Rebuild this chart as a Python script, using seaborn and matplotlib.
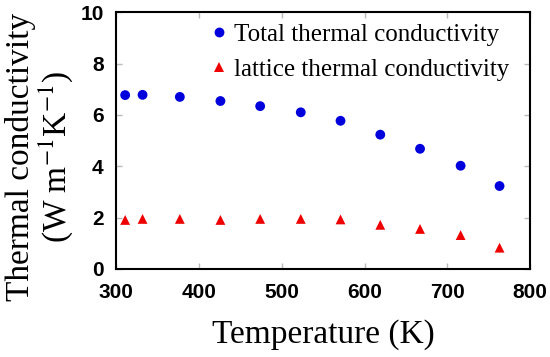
import matplotlib
matplotlib.use("Agg")
import matplotlib.pyplot as plt
import seaborn as sns
import pandas as pd

temperature = [311, 332, 377, 426, 474, 523, 571, 619, 667, 716, 763]
total_k = [6.77, 6.78, 6.70, 6.54, 6.34, 6.10, 5.77, 5.23, 4.68, 4.02, 3.23]
lattice_k = [1.91, 1.95, 1.95, 1.91, 1.95, 1.95, 1.93, 1.72, 1.56, 1.32, 0.83]
series_names = ["Total thermal conductivity", "lattice thermal conductivity"]
x_ticks = [300, 400, 500, 600, 700, 800]
y_ticks = [0, 2, 4, 6, 8, 10]

df = pd.DataFrame({
    "T": temperature * 2,
    "k": total_k + lattice_k,
    "series": [series_names[0]] * len(temperature) + [series_names[1]] * len(temperature),
})

sns.set_style("ticks")
plt.rcParams["mathtext.fontset"] = "stix"
plt.rcParams["text.color"] = "black"
fig = plt.figure(figsize=(5.5, 3.57), dpi=100)
ax = fig.add_axes([0.211, 0.2465, 0.753, 0.7195])

sns.scatterplot(data=df, x="T", y="k", hue="series", style="series",
                palette={series_names[0]: "#0000dd", series_names[1]: "#ee0000"},
                markers={series_names[0]: "o", series_names[1]: "^"},
                s=50, linewidth=0, ax=ax)

ax.set_xlim(300, 800)
ax.set_ylim(0, 10)
ax.set_xticks(x_ticks)
ax.set_yticks(y_ticks)
ax.tick_params(direction="in", length=4, width=1, color="#bbbbbb",
               top=True, right=True, labelsize=15, labelcolor="black")
ax.tick_params(axis="x", pad=10)
ax.tick_params(axis="y", pad=9)
for lab in ax.get_xticklabels() + ax.get_yticklabels():
    lab.set_fontweight("bold")
    lab.set_family("Liberation Sans")
for sp in ax.spines.values():
    sp.set_linewidth(1.5)
    sp.set_color("black")

ax.set_xlabel("Temperature (K)", family="Liberation Serif", fontsize=24, color="black")
ax.xaxis.set_label_coords(0.5, -0.195, transform=ax.transAxes)
ax.set_ylabel("Thermal conductivity\n(W m$^{-1}$K$^{-1}$)", family="Liberation Serif",
              fontsize=24, linespacing=1.0, color="black")
ax.yaxis.set_label_coords(-0.099, 0.436)

leg = ax.legend(loc="upper right", bbox_to_anchor=(0.949, 0.955), frameon=False,
                handletextpad=0.15, borderpad=0, borderaxespad=0,
                prop={"family": "Liberation Serif", "size": 18},
                labelspacing=0.5, handlelength=0.9, markerscale=1.0)
for t in leg.get_texts():
    t.set_color("black")

fig.savefig("out.png", dpi=100)
